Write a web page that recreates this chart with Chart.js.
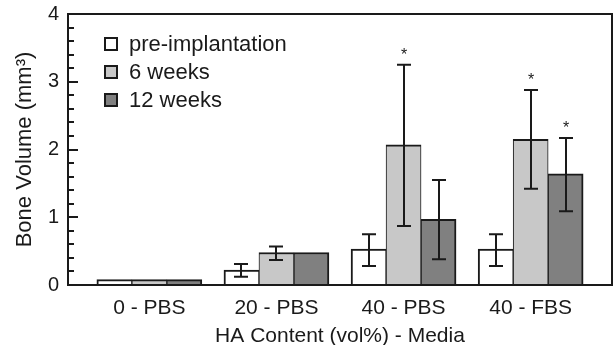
<!DOCTYPE html>
<html>
<head>
<meta charset="utf-8">
<script src="https://cdn.jsdelivr.net/npm/chart.js@4"></script>
<style>
  html, body { margin: 0; padding: 0; background: #fff; }
  #wrap { width: 613px; height: 345px; }
</style>
</head>
<body>
<div id="wrap"><canvas id="chart" width="613" height="345"></canvas></div>
<script>
// categories and values
const categories = ['0 - PBS', '20 - PBS', '40 - PBS', '40 - FBS'];
const seriesNames = ['pre-implantation', '6 weeks', '12 weeks'];

const preImpl = [0.08, 0.22, 0.53, 0.53];
const weeks6 = [0.08, 0.48, 2.07, 2.15];
const weeks12 = [0.08, 0.48, 0.97, 1.64];

// error bar ends (null = none drawn)
const preLow = [null, 0.12, 0.28, 0.28];
const preHigh = [null, 0.31, 0.75, 0.75];
const w6Low = [null, 0.37, 0.87, 1.42];
const w6High = [null, 0.57, 3.25, 2.88];
const w12Low = [null, null, 0.38, 1.09];
const w12High = [null, null, 1.55, 2.17];

// significance marks
const w6Star = [false, false, true, true];
const w12Star = [false, false, false, true];

const yTicks = [0, 1, 2, 3, 4];

const ink = '#1a1a1a';
const font = "'Liberation Sans', Arial, sans-serif";

function toPoints(values) {
  return values.map((v, i) => ({ x: i, y: v }));
}

// box around the plot + inward tick marks on the left
const framePlugin = {
  id: 'frame',
  afterDraw(chart) {
    const { ctx, chartArea } = chart;
    const y = chart.scales.y;
    ctx.save();
    ctx.strokeStyle = ink;
    ctx.lineWidth = 2;
    ctx.strokeRect(chartArea.left, chartArea.top, chartArea.right - chartArea.left, chartArea.bottom - chartArea.top);
    for (let k = 1; k < 20; k++) {
      const v = k / 5;
      const py = Math.round(y.getPixelForValue(v));
      const len = (k % 5 === 0) ? 10 : 6;
      ctx.beginPath();
      ctx.moveTo(chartArea.left, py);
      ctx.lineTo(chartArea.left + len, py);
      ctx.stroke();
    }
    ctx.restore();
  }
};

// error bars and asterisks
const errorPlugin = {
  id: 'errorBars',
  afterDatasetsDraw(chart) {
    const { ctx } = chart;
    const y = chart.scales.y;
    const ends = [[preLow, preHigh, null], [w6Low, w6High, w6Star], [w12Low, w12High, w12Star]];
    ctx.save();
    ctx.strokeStyle = ink;
    ctx.fillStyle = ink;
    ctx.lineWidth = 2;
    ends.forEach(([lo, hi, star], di) => {
      const meta = chart.getDatasetMeta(di);
      meta.data.forEach((bar, i) => {
        if (lo[i] === null) return;
        const x = Math.round(bar.x);
        const yl = y.getPixelForValue(lo[i]);
        const yh = y.getPixelForValue(hi[i]);
        ctx.beginPath();
        ctx.moveTo(x, yl); ctx.lineTo(x, yh);
        ctx.moveTo(x - 7, yl); ctx.lineTo(x + 7, yl);
        ctx.moveTo(x - 7, yh); ctx.lineTo(x + 7, yh);
        ctx.stroke();
        if (star && star[i]) {
          ctx.font = '16px ' + font;
          ctx.textAlign = 'center';
          ctx.textBaseline = 'middle';
          ctx.fillText('*', x, yh - 9);
        }
      });
    });
    ctx.restore();
  }
};

// legend inside the plot, top-left
const legendPlugin = {
  id: 'insideLegend',
  afterDraw(chart) {
    const { ctx, chartArea } = chart;
    ctx.save();
    chart.data.datasets.forEach((ds, i) => {
      const cy = chartArea.top + 30 + i * 28;
      const bx = chartArea.left + 37;
      ctx.fillStyle = ds.backgroundColor;
      ctx.fillRect(bx, cy - 6, 12, 12);
      ctx.strokeStyle = ink;
      ctx.lineWidth = 2;
      ctx.strokeRect(bx, cy - 6, 12, 12);
      ctx.fillStyle = ink;
      ctx.font = '22px ' + font;
      ctx.textAlign = 'left';
      ctx.textBaseline = 'middle';
      ctx.fillText(ds.label, chartArea.left + 61, cy + 1);
    });
    ctx.restore();
  }
};

const ctx = document.getElementById('chart').getContext('2d');
new Chart(ctx, {
  type: 'bar',
  data: {
    datasets: [{
      label: seriesNames[0],
      data: toPoints(preImpl),
      backgroundColor: '#ffffff',
      borderColor: ink,
      borderWidth: { top: 2, left: 2, right: 1, bottom: 0 },
      barThickness: 35
    }, {
      label: seriesNames[1],
      data: toPoints(weeks6),
      backgroundColor: '#c8c8c8',
      borderColor: ink,
      borderWidth: { top: 2, left: 1, right: 1, bottom: 0 },
      barThickness: 35
    }, {
      label: seriesNames[2],
      data: toPoints(weeks12),
      backgroundColor: '#808080',
      borderColor: ink,
      borderWidth: { top: 2, left: 1, right: 2, bottom: 0 },
      barThickness: 35
    }]
  },
  options: {
    responsive: false,
    animation: false,
    layout: { padding: { top: 14, right: 1, left: 0, bottom: 0 } },
    plugins: {
      legend: { display: false },
      tooltip: { enabled: false }
    },
    scales: {
      x: {
        type: 'linear',
        min: -0.64,
        max: 3.64,
        offset: false,
        grid: { display: false, drawTicks: false, offset: false },
        border: { display: true, color: ink, width: 2 },
        afterBuildTicks: (scale) => {
          scale.ticks = categories.map((c, i) => ({ value: i }));
        },
        afterFit: (scale) => {
          scale.height = 60;
          scale.paddingLeft = 0;
          scale.paddingRight = 0;
        },
        ticks: {
          autoSkip: false,
          maxRotation: 0,
          padding: 11,
          color: ink,
          font: { family: font, size: 21 },
          callback: (v) => categories[v]
        },
        title: {
          display: true,
          text: 'HA Content (vol%) - Media',
          color: ink,
          font: { family: font, size: 21, lineHeight: 0.8 },
          padding: { top: 0, bottom: 0 }
        }
      },
      y: {
        min: 0,
        max: 4,
        grid: { display: false, drawTicks: false },
        border: { display: true, color: ink, width: 2 },
        afterBuildTicks: (scale) => {
          scale.ticks = yTicks.map(v => ({ value: v }));
        },
        afterFit: (scale) => {
          scale.width = 68;
          scale.paddingTop = 0;
          scale.paddingBottom = 0;
        },
        ticks: {
          padding: 9,
          color: ink,
          font: { family: font, size: 20 }
        },
        title: {
          display: true,
          text: 'Bone Volume (mm³)',
          color: ink,
          font: { family: font, size: 22, lineHeight: 1.2 },
          padding: { top: 12, bottom: 0 }
        }
      }
    }
  },
  plugins: [framePlugin, errorPlugin, legendPlugin]
});
</script>
</body>
</html>
